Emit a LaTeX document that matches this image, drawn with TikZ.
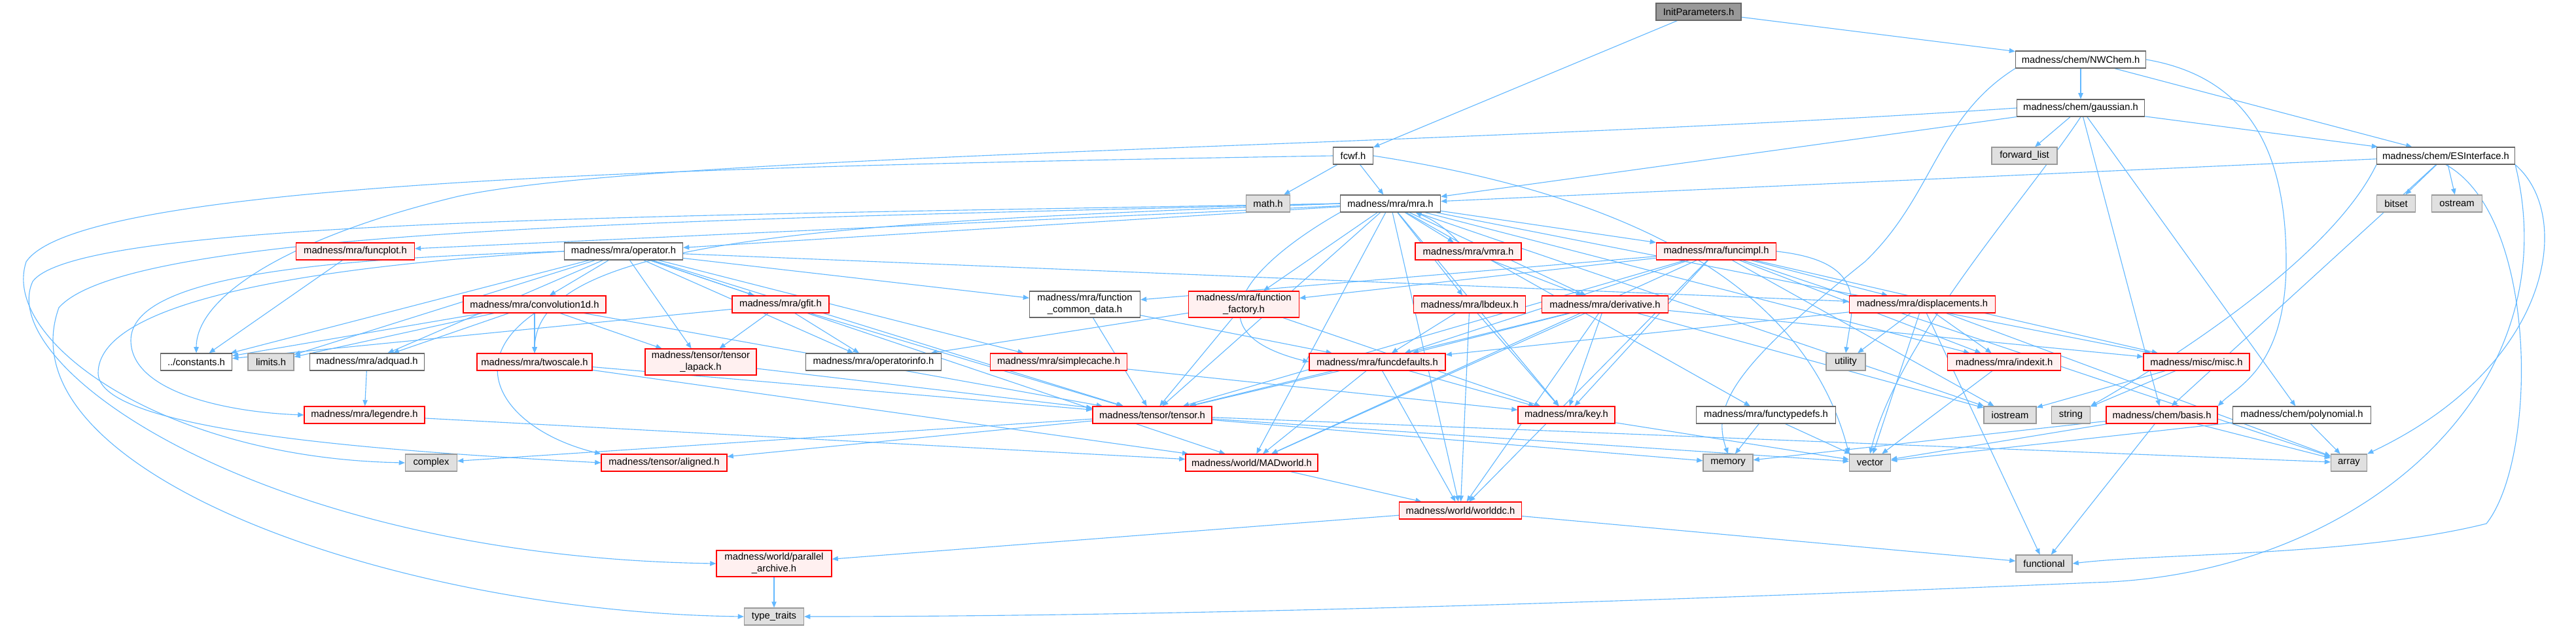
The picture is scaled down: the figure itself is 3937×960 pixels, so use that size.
\documentclass[tikz,border=0pt]{standalone}
\usepackage{fontspec}
\newfontfamily\dxfont{Liberation Sans}
\usetikzlibrary{arrows.meta, backgrounds}
\definecolor{edgeblue}{HTML}{63B8FF}
\definecolor{truncred}{HTML}{FF0000}
\definecolor{truncbg} {HTML}{FFF0F0}
\definecolor{hdrline} {HTML}{666666}
\definecolor{extbg}   {HTML}{E0E0E0}
\definecolor{extline} {HTML}{999999}
\definecolor{rootbg}  {HTML}{999999}

\begin{document}
\begin{tikzpicture}[
    x=0.01cm, y=-0.01cm,
    >={Triangle[length=2.6pt, width=2.1pt]},
    %% --- node styles ---
    box/.style      = {rectangle, line width=0.35pt, minimum height=0.26cm,
                       inner xsep=1.5pt, inner ysep=0.5pt, align=center,
                       font=\dxfont\fontsize{4.2}{5.1}\selectfont},
    hdr/.style      = {box, draw=hdrline, fill=white},
    trunc/.style    = {box, draw=truncred, fill=truncbg},
    ext/.style      = {box, draw=extline, fill=extbg},
    root/.style     = {box, draw=hdrline, fill=rootbg},
    wd/.style       = {minimum width=#1*0.01cm},
    tall/.style     = {minimum height=0.40cm},
    inc/.style      = {->, draw=edgeblue, line width=0.32pt}
]
\useasboundingbox (0,0) rectangle (3937,960);

%% =====================================================
%% Top: root and chem headers
%% =====================================================
\node[root, wd=130]  (init)    at (2596,18)  {InitParameters.h};
\node[hdr, wd=199]   (nwchem)  at (3180,91)  {madness/chem/NWChem.h};
\node[hdr, wd=195]   (gauss)   at (3180,165) {madness/chem/gaussian.h};
\node[hdr, wd=61]    (fcwf)    at (2068,238) {fcwf.h};
\node[ext, wd=100]   (fwdlist) at (3094,238) {forward\_list};
\node[hdr, wd=211]   (esi)     at (3738,238) {madness/chem/ESInterface.h};
\node[ext, wd=67]    (mathh)   at (1938,311) {math.h};
\node[hdr, wd=153]   (mra)     at (2125,311) {madness/mra/mra.h};
\node[ext, wd=59]    (bitset)  at (3662,311) {bitset};
\node[ext, wd=77]    (ostream) at (3755,311) {ostream};

%% =====================================================
%% mra layer
%% =====================================================
\node[trunc, wd=181] (funcplot) at (543,384)  {madness/mra/funcplot.h};
\node[hdr, wd=181]   (oper)     at (953,384)  {madness/mra/operator.h};
\node[trunc, wd=162] (vmra)     at (2244,384) {madness/mra/vmra.h};
\node[trunc, wd=183] (funcimpl) at (2623,384) {madness/mra/funcimpl.h};

\node[trunc, wd=218] (conv)   at (817,465)  {madness/mra/convolution1d.h};
\node[trunc, wd=148] (gfit)   at (1193,465) {madness/mra/gfit.h};
\node[hdr, wd=169, tall]   (fcd)  at (1658,465) {madness/mra/function\\\_common\_data.h};
\node[trunc, wd=169, tall] (ffac) at (1901,465) {madness/mra/function\\\_factory.h};
\node[trunc, wd=171] (lbdeux) at (2246,465) {madness/mra/lbdeux.h};
\node[trunc, wd=193] (deriv)  at (2453,465) {madness/mra/derivative.h};
\node[trunc, wd=223] (displ)  at (2938,465) {madness/mra/displacements.h};

\node[hdr, wd=109]   (consts)   at (300,553)  {../constants.h};
\node[ext, wd=70]    (limits)   at (414,553)  {limits.h};
\node[hdr, wd=175]   (adquad)   at (561,553)  {madness/mra/adquad.h};
\node[trunc, wd=176] (twoscale) at (817,553)  {madness/mra/twoscale.h};
\node[trunc, wd=170, tall] (tlapack) at (1071,553) {madness/tensor/tensor\\\_lapack.h};
\node[hdr, wd=207]   (opinfo)   at (1335,553) {madness/mra/operatorinfo.h};
\node[trunc, wd=209] (scache)   at (1618,553) {madness/mra/simplecache.h};
\node[trunc, wd=208] (fdef)     at (2105,553) {madness/mra/funcdefaults.h};
\node[ext, wd=60]    (utility)  at (2821,553) {utility};
\node[trunc, wd=173] (indexit)  at (3063,553) {madness/mra/indexit.h};
\node[trunc, wd=162] (misc)     at (3357,553) {madness/misc/misc.h};

%% =====================================================
%% Lower layers: tensor, world, system headers
%% =====================================================
\node[trunc, wd=184] (legendre)  at (557,634)  {madness/mra/legendre.h};
\node[trunc, wd=182] (tensor)    at (1761,634) {madness/tensor/tensor.h};
\node[trunc, wd=148] (key)       at (2394,634) {madness/mra/key.h};
\node[hdr, wd=213]   (ftypedefs) at (2699,634) {madness/mra/functypedefs.h};
\node[ext, wd=80]    (iostream)  at (3072,634) {iostream};
\node[ext, wd=59]    (string)    at (3165,634) {string};
\node[trunc, wd=170] (basis)     at (3304,634) {madness/chem/basis.h};
\node[hdr, wd=211]   (poly)      at (3518,634) {madness/chem/polynomial.h};

\node[ext, wd=79]    (complex)  at (659,707)  {complex};
\node[trunc, wd=192] (aligned)  at (1015,707) {madness/tensor/aligned.h};
\node[trunc, wd=202] (madworld) at (1913,707) {madness/world/MADworld.h};
\node[ext, wd=76]    (memory)   at (2641,707) {memory};
\node[ext, wd=63]    (vector)   at (2858,707) {vector};
\node[ext, wd=55]    (array)    at (3590,707) {array};

\node[trunc, wd=187] (worlddc)    at (2232,780) {madness/world/worlddc.h};
\node[trunc, wd=176, tall] (parch) at (1183,861) {madness/world/parallel\\\_archive.h};
\node[ext, wd=86]    (functional) at (3124,861) {functional};
\node[ext, wd=91]    (typetr)     at (1183,942) {type\_traits};

%% =====================================================
%% Include edges
%% =====================================================
\begin{scope}[on background layer]
% straight includes
\foreach \a/\b in {init/fcwf, init/nwchem, nwchem/gauss, nwchem/esi,
    gauss/mra, gauss/fwdlist, gauss/esi, gauss/poly, gauss/basis,
    esi/mra, esi/bitset, esi/ostream, esi/basis, fcwf/mathh, fcwf/mra,
    mra/funcplot, mra/oper, mra/vmra, mra/funcimpl, mra/lbdeux, mra/deriv,
    mra/ffac, mra/tensor, mra/key, mra/indexit, mra/misc, mra/ftypedefs,
    mra/iostream, mra/madworld, mra/worlddc, vmra/deriv,
    oper/conv, oper/gfit, oper/tlapack, oper/opinfo, oper/consts,
    oper/limits, oper/adquad, oper/fcd, oper/scache, oper/tensor,
    oper/displ, oper/madworld,
    conv/consts, conv/limits, conv/adquad, conv/twoscale, conv/tlapack,
    conv/tensor, gfit/consts, gfit/tlapack, gfit/opinfo, gfit/tensor,
    funcplot/consts, adquad/legendre, twoscale/tensor, twoscale/madworld,
    tlapack/tensor, legendre/madworld, scache/key, ffac/tensor,
    ffac/opinfo, ffac/key, fcd/fdef, fcd/tensor,
    funcimpl/fcd, funcimpl/ffac, funcimpl/fdef, funcimpl/tensor,
    funcimpl/key, funcimpl/displ, funcimpl/indexit, funcimpl/misc,
    funcimpl/iostream, funcimpl/madworld, funcimpl/worlddc, funcimpl/array,
    lbdeux/fdef, lbdeux/key, lbdeux/worlddc,
    deriv/fdef, deriv/tensor, deriv/key, deriv/iostream, deriv/misc,
    deriv/madworld, deriv/worlddc,
    displ/fdef, displ/utility, displ/indexit, displ/vector,
    displ/functional, displ/array,
    fdef/tensor, fdef/key, fdef/madworld, fdef/worlddc,
    indexit/vector, misc/iostream, misc/string,
    basis/memory, basis/vector, basis/functional, basis/array,
    poly/vector, poly/array, key/vector, ftypedefs/memory, ftypedefs/vector,
    tensor/aligned, tensor/complex, tensor/memory, tensor/vector,
    tensor/array, madworld/worlddc, worlddc/parch, worlddc/functional,
    parch/typetr}
    \draw[inc] (\a) -- (\b);

% back edge and bent routes
\draw[inc] (vmra) to[bend right=12] (mra);
\draw[inc] (mra.south west) .. controls (1950,380) and (1790,500) .. (fdef.west);
\draw[inc] (funcimpl.east) .. controls (2860,400) and (2830,470) .. (utility.north);
\draw[inc] (conv.south) .. controls (700,560) and (780,660) .. (aligned.north west);
\draw[inc] (mra.west) .. controls (1300,340) and (820,360) .. (twoscale.north);

% long routes round the left side
\draw[inc] (fcwf.west) .. controls (1000,255) and (120,280) .. (40,400)
    .. controls (0,520) and (250,700) .. (complex.west);
\draw[inc] (mra.west) .. controls (1000,330) and (120,335) .. (50,430)
    .. controls (-10,560) and (400,850) .. (parch.west);
\draw[inc] (mra.west) .. controls (1100,336) and (200,345) .. (90,470)
    .. controls (0,720) and (600,935) .. (typetr.west);
\draw[inc] (oper.west) .. controls (500,395) and (200,420) .. (200,520)
    .. controls (200,600) and (350,630) .. (legendre.west);
\draw[inc] (oper.west) .. controls (420,410) and (150,470) .. (150,570)
    .. controls (150,660) and (600,690) .. (aligned.west);
\draw[inc] (gauss.west) .. controls (2200,225) and (1000,235) .. (700,300)
    .. controls (450,360) and (300,450) .. (consts.north);

% long routes on the right side
\draw[inc] (nwchem.south west) .. controls (2960,180) and (2955,300) .. (2850,400)
    .. controls (2650,560) and (2615,620) .. (memory.north);
\draw[inc] (nwchem.east) .. controls (3450,120) and (3494,250) .. (3494,400)
    .. controls (3494,560) and (3420,590) .. (basis.north east);
\draw[inc] (gauss.south) .. controls (3100,300) and (2900,520) .. (vector.north);
\draw[inc] (fcwf.east) .. controls (2500,300) and (2760,440) .. (vector.north west);
\draw[inc] (esi.south west) .. controls (3560,400) and (3300,560) .. (string.north east);
\draw[inc] (esi.south east) .. controls (3935,330) and (3900,560) .. (array.north east);
\draw[inc] (esi.south) .. controls (3880,330) and (3879,700) .. (3800,800)
    .. controls (3600,850) and (3300,845) .. (functional.east);
\draw[inc] (esi.south east) .. controls (3930,600) and (3600,880) .. (3200,890)
    .. controls (2500,920) and (1800,942) .. (typetr.east);
\end{scope}

\end{tikzpicture}
\end{document}
